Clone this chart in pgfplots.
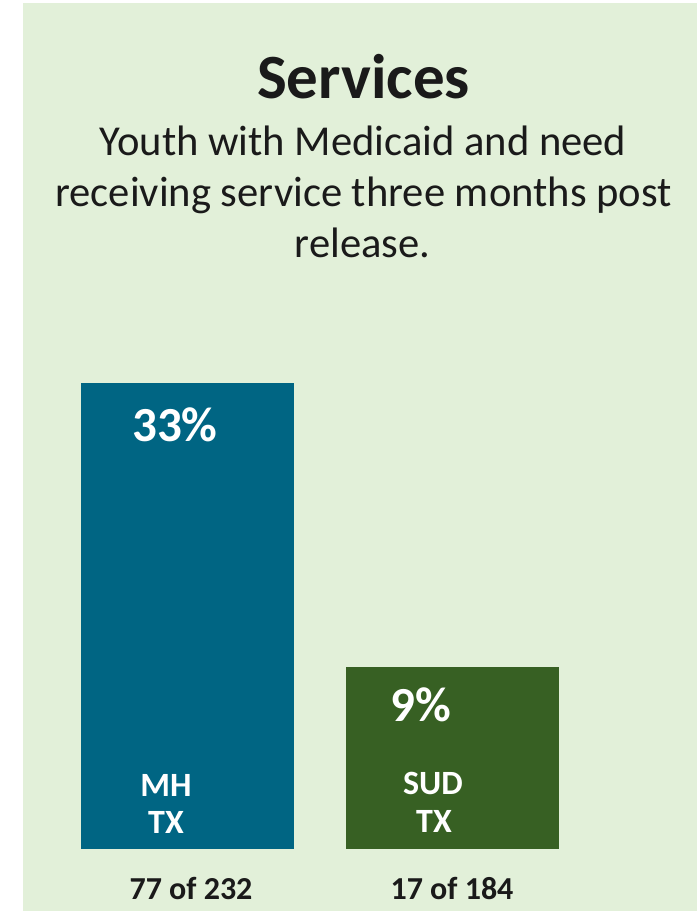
\documentclass[border=0pt]{standalone}
\usepackage{pgfplots}
\pgfplotsset{compat=1.18}
\usepackage{fontspec}
\setmainfont{Carlito}
\definecolor{bg}{HTML}{E2F0D9}
\definecolor{mh}{HTML}{006583}
\definecolor{sud}{HTML}{376023}
\definecolor{txt}{HTML}{1A1A1A}
\begin{document}
\begin{tikzpicture}[x=1pt,y=1pt]
\path[use as bounding box] (0,0) rectangle (697,913);
\fill[white] (0,0) rectangle (697,913);
\fill[bg] (23,2) rectangle (697,910);
\node[anchor=base, inner sep=0pt, text=txt, font=\bfseries\fontsize{63}{63}\selectfont] at (363.5,814) {Services};
\begin{scope}[every node/.style={anchor=base, inner sep=0pt, text=txt, font=\fontsize{42.6}{42.6}\selectfont}]
\node at (363,757) {Youth with Medicaid and need};
\node at (363.5,706) {receiving service three months post};
\node at (362.5,655) {release.};
\end{scope}
\begin{axis}[
  at={(0pt,64pt)}, anchor=south west,
  scale only axis, width=697pt, height=466pt,
  xmin=-0.70566, xmax=1.92453, ymin=0, ymax=33,
  axis lines=none, clip=false,
  ybar, bar width=213pt,
]
\addplot[fill=mh, draw=none, bar shift=0pt] coordinates {(0,33)};
\addplot[fill=sud, draw=none, bar shift=0pt] coordinates {(1,12.9)};
\end{axis}
\begin{scope}[every node/.style={anchor=base, inner sep=0pt, text=white, font=\bfseries\fontsize{49}{49}\selectfont}]
\node at (175,471) {33\%};
\node at (421,191) {9\%};
\end{scope}
\begin{scope}[every node/.style={anchor=base, inner sep=0pt, text=white, font=\bfseries\fontsize{34}{34}\selectfont}]
\node at (166,116) {MH};
\node at (166,79) {TX};
\node at (433,118) {SUD};
\node at (434,80) {TX};
\end{scope}
\begin{scope}[every node/.style={anchor=base, inner sep=0pt, text=txt, font=\bfseries\fontsize{32}{32}\selectfont}]
\node at (191,13) {77 of 232};
\node at (452,13) {17 of 184};
\end{scope}
\end{tikzpicture}
\end{document}
